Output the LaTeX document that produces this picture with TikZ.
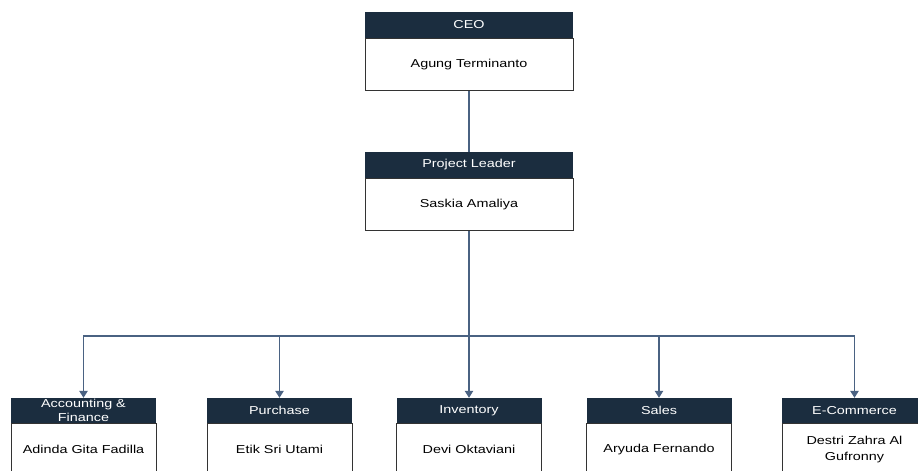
\documentclass[tikz,border=0pt]{standalone}
\usepackage{fontspec}
\setmainfont{Liberation Sans}[FakeStretch=1.25]
\usetikzlibrary{arrows.meta,positioning}
\definecolor{hdr}{HTML}{1B2D3F}
\definecolor{conn}{HTML}{4A6282}
\definecolor{bord}{HTML}{333333}
\tikzset{
  hdrbig/.style={fill=hdr, text=white, minimum width=208pt, minimum height=26pt, inner sep=0pt, align=center, font=\fontsize{11.5}{13.5}\selectfont},
  bodybig/.style={draw=bord, line width=0.9pt, fill=white, minimum width=208pt, minimum height=52pt, inner sep=0pt, align=center, font=\fontsize{11.5}{15.5}\selectfont},
  hdrsmall/.style={hdrbig, minimum width=145pt, minimum height=25pt},
  bodysmall/.style={bodybig, minimum width=145pt, minimum height=52pt},
  link/.style={draw=conn, line width=1.1pt},
  arrowlink/.style={link, -{Triangle[width=8.5pt,length=7pt]}}
}
\begin{document}
\begin{tikzpicture}[x=1pt,y=-1pt]
\useasboundingbox (0,0) rectangle (918,471);
\clip (0,0) rectangle (918,471);
% top boxes
\node[hdrbig] (ceoH) at (469,25) {CEO};
\node[bodybig, below=0pt of ceoH] (ceoB) {Agung Terminanto};
\node[hdrbig] (plH) at (469,165) {Project Leader};
\node[bodybig, below=0pt of plH] (plB) {Saskia Amaliya};
% bottom boxes
\node[hdrsmall] (accH) at (83.5,410.5) {Accounting \&\\Finance};
\node[bodysmall, below=0pt of accH] (accB) {Adinda Gita Fadilla};
\node[hdrsmall] (purH) at (279.5,410.5) {Purchase};
\node[bodysmall, below=0pt of purH] (purB) {Etik Sri Utami};
\node[hdrsmall] (invH) at (469,410.5) {Inventory};
\node[bodysmall, below=0pt of invH] (invB) {Devi Oktaviani};
\node[hdrsmall] (salH) at (659,410.5) {Sales};
\node[bodysmall, below=0pt of salH] (salB) {Aryuda Fernando};
\node[hdrsmall] (ecoH) at (854.5,410.5) {E-Commerce};
\node[bodysmall, below=0pt of ecoH] (ecoB) {Destri Zahra Al\\Gufronny};
% connectors
\coordinate (bus) at (469,336);
\draw[link] (ceoB.south) -- (plH.north);
\draw[link] (plB.south) -- (bus);
\draw[arrowlink] (bus) -| (accH.north);
\draw[arrowlink] (bus) -| (purH.north);
\draw[arrowlink] (bus) -- (invH.north);
\draw[arrowlink] (bus) -| (salH.north);
\draw[arrowlink] (bus) -| (ecoH.north);
\end{tikzpicture}
\end{document}
